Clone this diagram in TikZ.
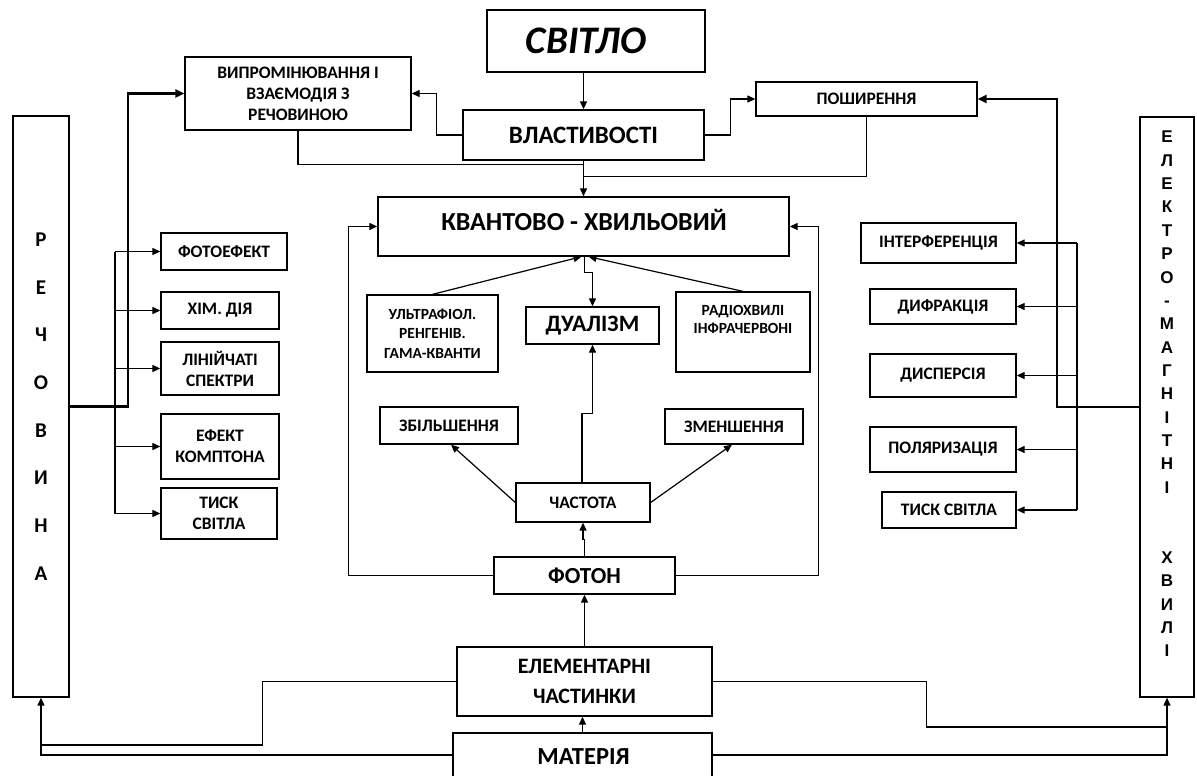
\documentclass[tikz,border=0pt]{standalone}
\usepackage{fontspec}
\setmainfont{Carlito}
\newfontfamily\arialfont{Liberation Sans}
\usetikzlibrary{arrows.meta,calc}

\begin{document}
\begin{tikzpicture}[x=1pt,y=-1pt,
  box/.style={draw, line width=1.3pt, inner sep=0pt, align=center,
    font=\bfseries\fontsize{17.5}{21}\selectfont},
  wh/.style 2 args={minimum width=#1pt, minimum height=#2pt},
  bigtxt/.style={font=\bfseries\fontsize{25}{28}\selectfont},
  midtxt/.style={font=\bfseries\fontsize{22}{30}\selectfont},
  smalltxt/.style={font=\bfseries\fontsize{15.5}{19.5}\selectfont},
  conn/.style={line width=1.2pt},
  arr/.style={conn, -{Triangle[length=8pt,width=7pt]}},
  heavy/.style={line width=2.2pt},
  heavyarr/.style={heavy, -{Triangle[length=9pt,width=8pt]}},
]
\useasboundingbox (0,0) rectangle (1197,776);
\clip (0,0) rectangle (1197,776);

% --- top: light and its properties
\node[box, wh={218}{62}] (svitlo) at (596,41) {};
\node[font=\bfseries\itshape\fontsize{39}{42}\selectfont] (svitlotxt) at (586,41) {СВІТЛО};
\node[box, wh={241}{50}, bigtxt] (vlast) at (583.5,135) {ВЛАСТИВОСТІ};
\node[box, wh={226}{73}] (vypr) at (298,93.5) {ВИПРОМІНЮВАННЯ І\\ВЗАЄМОДІЯ З\\РЕЧОВИНОЮ};
\node[box, wh={221}{34}] (poshyr) at (866.5,99) {ПОШИРЕННЯ};

% --- centre: wave-particle block
\node[box, wh={411}{59}] (kvant) at (583.5,226.5) {};
\node[font=\bfseries\fontsize{26}{30}\selectfont] (kvanttxt) at (584,220) {КВАНТОВО - ХВИЛЬОВИЙ};
\node[box, wh={131}{77}, smalltxt] (ultra) at (432.5,333.5) {УЛЬТРАФІОЛ.\\РЕНГЕНІВ.\\ГАМА-КВАНТИ};
\node[box, wh={133}{37}, font=\bfseries\fontsize{23.5}{28}\selectfont] (dual) at (592.5,325.5) {ДУАЛІЗМ};
\node[box, wh={134}{80}] (radio) at (743,332) {};
\node[align=center, font=\bfseries\fontsize{15.5}{18}\selectfont] (radiotxt) at (743,319) {РАДІОХВИЛІ\\ІНФРАЧЕРВОНІ};
\node[box, wh={138}{37}] (zbil) at (449,425.5) {ЗБІЛЬШЕННЯ};
\node[box, wh={138}{35}] (zmen) at (734,426.5) {ЗМЕНШЕННЯ};
\node[box, wh={134}{39}] (chast) at (583,502.5) {ЧАСТОТА};
\node[box, wh={181}{37}, font=\bfseries\fontsize{23}{28}\selectfont] (foton) at (584.5,575.5) {ФОТОН};

% --- bottom: matter
\node[box, wh={255}{69}, midtxt] (elem) at (584.5,681.5) {ЕЛЕМЕНТАРНІ\\ЧАСТИНКИ};
\node[box, wh={259}{67}] (mater) at (582.5,766.5) {};
\node[font=\bfseries\fontsize{24.5}{28}\selectfont] (matertxt) at (583.5,757) {МАТЕРІЯ};

% --- side columns
\node[box, wh={56}{581}, font=\bfseries\fontsize{21}{47.7}\selectfont] (rech) at (41,406.5)
  {Р\\Е\\Ч\\О\\В\\И\\Н\\А};
\node[box, wh={54}{580}] (elektro) at (1167,407) {};
\node[align=center, font=\arialfont\bfseries\fontsize{17}{23.36}\selectfont] (elektrotxt) at (1167,394)
  {Е\\Л\\Е\\К\\Т\\Р\\О\\-\\М\\А\\Г\\Н\\І\\Т\\Н\\І\\[46.72pt]Х\\В\\И\\Л\\І};

% --- effects of light on matter
\node[box, wh={126}{37}] (foto) at (224,251.5) {ФОТОЕФЕКТ};
\node[box, wh={118}{37}] (khim) at (220,310.5) {ХІМ. ДІЯ};
\node[box, wh={118}{53}] (lin) at (220,368.5) {ЛІНІЙЧАТІ\\СПЕКТРИ};
\node[box, wh={118}{65}] (kompt) at (220,446.5) {ЕФЕКТ\\КОМПТОНА};
\node[box, wh={116}{51}] (tysk1) at (219,513.5) {ТИСК\\СВІТЛА};

% --- wave phenomena
\node[box, wh={155}{40}] (interf) at (938.5,243) {ІНТЕРФЕРЕНЦІЯ};
\node[box, wh={146}{35}] (dyfr) at (943,306.5) {ДИФРАКЦІЯ};
\node[box, wh={146}{43}] (dysp) at (943,375.5) {ДИСПЕРСІЯ};
\node[box, wh={146}{45}] (polar) at (943,449.5) {ПОЛЯРИЗАЦІЯ};
\node[box, wh={134}{36}] (tysk2) at (949,510) {ТИСК СВІТЛА};

% bus lines
\coordinate (lb) at (115,0);
\coordinate (rb) at (1077,0);

% --- connectors: top
\draw[arr] (vlast.north |- svitlo.south) -- (vlast.north);
\draw[arr] (vlast.west) -- ++(-26,0) |- (vypr.east);
\draw[arr] (vlast.east) -- ++(26,0) |- (poshyr.west);
\draw[arr] (vlast.south) -- (kvant.north);
\draw[conn] (vypr.south) |- ($(vlast.south)+(0,4)$);
\draw[conn] (poshyr.south) |- ($(vlast.south)+(0,16)$);

% --- connectors: side columns
\draw[heavyarr] (rech.east) -- ++(58,0) |- (vypr.west);
\draw[heavyarr] (elektro.west) -- ++(-82,0) |- (poshyr.east);
\draw[conn] (lb |- foto.west) -- (lb |- tysk1.west);
\foreach \b in {foto,khim,lin,kompt,tysk1}
  \draw[arr] (lb |- \b.west) -- (\b.west);
\draw[conn] (rb |- interf.east) -- (rb |- tysk2.east);
\foreach \b in {interf,dyfr,dysp,polar,tysk2}
  \draw[arr] (rb |- \b.east) -- (\b.east);

% --- connectors: centre
\draw[arr] (ultra.north) -- ($(kvant.south)+(-2,0)$);
\draw[arr] (radio.north) -- ($(kvant.south)+(5,0)$);
\draw[arr] ($(kvant.south)+(1,0)$) -- ++(0,16) -| (dual.north);
\draw[arr] ($(chast.north)+(-1,0)$) -- ++(0,-69) -| (dual.south);
\draw[arr] (chast.west) -- ($(zbil.south)+(2,0)$);
\draw[arr] (chast.east) -- ($(zmen.south)+(-2,0)$);
\draw[arr] (foton.north) -- ++(0,-17) -| (chast.south);
\draw[arr] (foton.west) -| ($(kvant.west)+(-29,0)$) -- (kvant.west);
\draw[arr] (foton.east) -| ($(kvant.east)+(29,0)$) -- (kvant.east);

% --- connectors: bottom
\draw[arr] (elem.north) -- (foton.south);
\draw[arr] (mater.north) -- ($(elem.south)+(-2,0)$);
\draw[conn] (elem.west) -- ++(-194,0) |- (rech.south |- 0,745);
\draw[arr] (mater.west |- 0,755) -| (rech.south);
\draw[conn] (elem.east) -- ++(214,0) |- (elektro.south |- 0,727);
\draw[arr] (mater.east |- 0,755) -| (elektro.south);
\end{tikzpicture}
\end{document}
